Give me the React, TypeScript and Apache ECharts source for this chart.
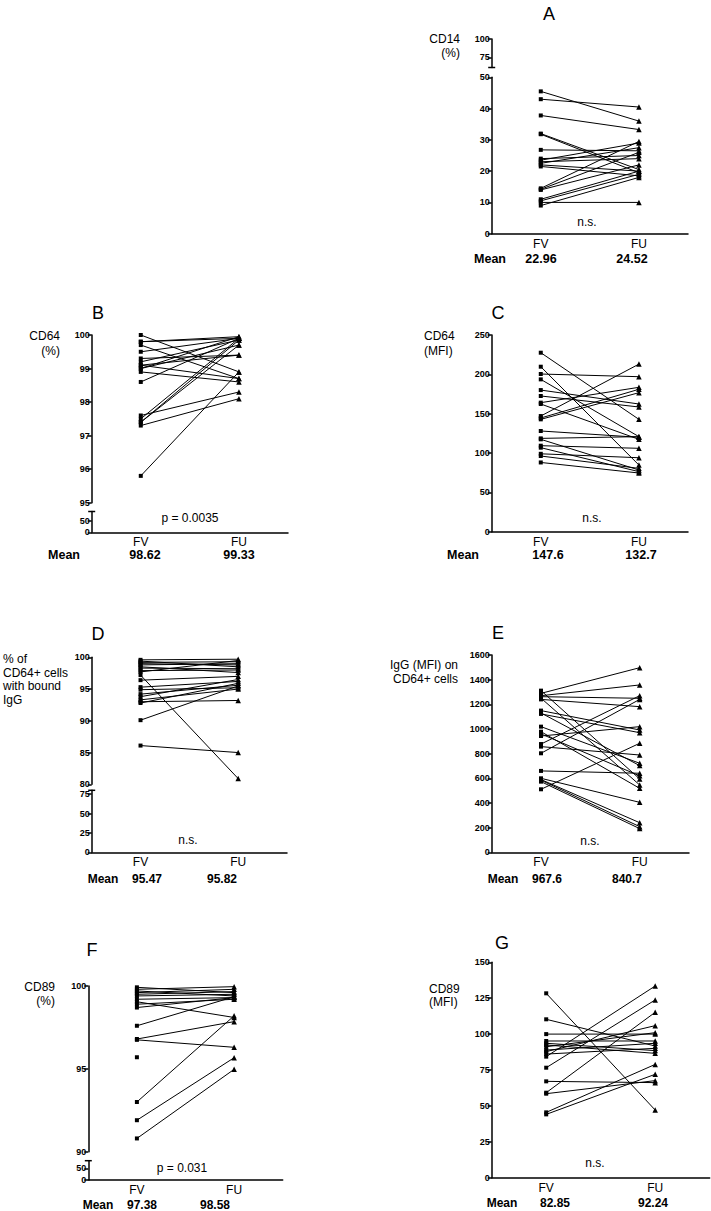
import React, { useEffect, useRef } from 'react';
import * as echarts from 'echarts';

const categories = ['FV', 'FU'];

// A: CD14 (%)
const cd14FV = [45.5, 43, 37.8, 32, 31.8, 26.8, 24, 23.5, 23, 22.5, 22, 21.5, 14.5, 14.2, 14, 11, 10.5, 10, 9];
const cd14FU = [36, 40.5, 33.3, 20.5, 19.5, 26.5, 25, 29, 24, 27.5, 20, 18.5, 29.5, 26, 22, 20, 19, 10, 18];
const meanA = ['22.96', '24.52'];

// B: CD64 (%)
const cd64PctFV = [100, 99.8, 99.7, 99.5, 99.3, 99.2, 99.1, 99.0, 99.0, 98.9, 98.6, 97.6, 97.5, 97.4, 97.4, 97.3, 95.8, 99.8, 99.1];
const cd64PctFU = [98.9, 99.9, 98.7, 99.9, 99.4, 99.85, 98.7, 99.7, 99.95, 98.6, 99.9, 98.3, 99.9, 99.7, 99.85, 98.1, 98.9, 99.95, 99.4];
const meanB = ['98.62', '99.33'];

// C: CD64 (MFI)
const cd64MfiFV = [227.5, 209.7, 200.4, 193.6, 180, 172.5, 164, 162.3, 147, 144.5, 142.8, 128, 118.6, 117.4, 109.3, 106.8, 99, 96.2, 88];
const cd64MfiFU = [142.8, 84.7, 197, 120.8, 162.3, 158.5, 183.5, 117.4, 213, 181, 176.7, 120, 120.8, 78.4, 106, 76.3, 94, 80.5, 74.6];
const meanC = ['147.6', '132.7'];

// D: % of CD64+ cells with bound IgG
const boundFV = [99.6, 99.4, 99.2, 98.8, 98.5, 98.3, 97.7, 97.2, 96.4, 95.3, 94.9, 94.2, 93.8, 93.3, 93.0, 92.8, 90.1, 86.1, 99.0, 97.9];
const boundFU = [99.7, 98.5, 99.3, 99.0, 97.6, 98.2, 99.5, 80.9, 97.0, 96.2, 95.2, 95.6, 96.5, 95.0, 93.2, 95.9, 95.5, 85.0, 98.8, 98.0];
const meanD = ['95.47', '95.82'];

// E: IgG (MFI) on CD64+ cells
const igGFV = [1311, 1289, 1270, 1262, 1250, 1240, 1149, 1130, 1122, 1019, 978, 943, 960, 878, 857, 803, 660, 600, 590, 585, 573, 511];
const igGFU = [595, 1497, 1357, 1249, 546, 1181, 992, 703, 970, 722, 519, 1019, 620, 1270, 789, 1240, 641, 405, 240, 208, 192, 884];
const meanE = ['967.6', '840.7'];

// F: CD89 (%)
const cd89PctFV = [99.92, 99.8, 99.7, 99.6, 99.5, 99.4, 99.2, 99.05, 98.9, 98.7, 97.6, 96.8, 96.75, 95.7, 93.0, 91.9, 90.8];
const cd89PctFU: (number | null)[] = [99.6, 99.96, 99.4, 99.8, 99.66, 99.5, 99.3, 98.1, 99.2, 99.3, 99.35, 97.85, 96.3, null, 98.2, 95.67, 94.97];
const meanF = ['97.38', '98.58'];

// G: CD89 (MFI)
const cd89MfiFV = [128.4, 110.3, 100, 95.2, 93.6, 92.4, 91.2, 88.9, 87.8, 86.1, 84.3, 76.6, 67.1, 59.2, 58.5, 45.5, 44.1];
const cd89MfiFU = [47.1, 91.7, 100, 95.2, 88.5, 86.6, 101, 93.6, 105.9, 90.1, 133.5, 123.8, 66.2, 115.2, 67.6, 78.9, 72];
const meanG = ['82.85', '92.24'];

const FONT = 'Liberation Sans, Arial, sans-serif';

type Seg = { top: number; height: number; min: number; max: number; interval?: number; ticks?: number[]; main?: boolean };
type Panel = { left: number; width: number; segs: Seg[]; fv: number[]; fu: (number | null)[] };

const panels: Panel[] = [
  { left: 491.7, width: 196.3, fv: cd14FV, fu: cd14FU, segs: [
    { top: 39, height: 28.5, min: 61, max: 100, ticks: [75, 100] },
    { top: 77.3, height: 156.4, min: 0, max: 50, interval: 10, main: true },
  ] },
  { left: 91.7, width: 196.3, fv: cd64PctFV, fu: cd64PctFU, segs: [
    { top: 335, height: 167.7, min: 95, max: 100, interval: 1, main: true },
    { top: 511.5, height: 20.8, min: 0, max: 90, ticks: [0, 50] },
  ] },
  { left: 491.7, width: 196.3, fv: cd64MfiFV, fu: cd64MfiFU, segs: [
    { top: 335, height: 196.7, min: 0, max: 250, interval: 50, main: true },
  ] },
  { left: 91.7, width: 195.3, fv: boundFV, fu: boundFU, segs: [
    { top: 657.3, height: 127, min: 80, max: 100, interval: 5, main: true },
    { top: 790.3, height: 62, min: 0, max: 80, ticks: [0, 25, 50, 75] },
  ] },
  { left: 491.7, width: 197.3, fv: igGFV, fu: igGFU, segs: [
    { top: 655, height: 197.3, min: 0, max: 1600, interval: 200, main: true },
  ] },
  { left: 88.3, width: 194.4, fv: cd89PctFV, fu: cd89PctFU, segs: [
    { top: 986, height: 165.7, min: 90, max: 100, interval: 5, main: true },
    { top: 1160.7, height: 19.3, min: 0, max: 82.5, ticks: [0, 50] },
  ] },
  { left: 491.7, width: 218, fv: cd89MfiFV, fu: cd89MfiFU, segs: [
    { top: 962.3, height: 215.4, min: 0, max: 150, interval: 25, main: true },
  ] },
];

const txt = (x: number, y: number, text: string, size: number, align = 'center', bold = false) => ({
  type: 'text', x, y, silent: true,
  style: { text, fill: '#000', fontSize: size, fontFamily: FONT, fontWeight: bold ? 'bold' : 'normal', align, verticalAlign: 'middle' },
});

const cap = (x: number, y: number) => ({
  type: 'line', silent: true,
  shape: { x1: x - 3.5, y1: y, x2: x + 3.5, y2: y },
  style: { stroke: '#000', lineWidth: 1.5 },
});

function buildOption() {
  const grid: any[] = [];
  const xAxis: any[] = [];
  const yAxis: any[] = [];
  const series: any[] = [];
  panels.forEach((p) => {
    p.segs.forEach((s, si) => {
      const idx = grid.length;
      grid.push({ left: p.left, top: s.top, width: p.width, height: s.height, containLabel: false, outerBoundsMode: 'none' });
      const isBottom = si === p.segs.length - 1;
      xAxis.push({
        gridIndex: idx, type: 'category', data: categories, show: isBottom,
        axisLine: { show: true, lineStyle: { color: '#000', width: 1.5 } },
        axisTick: { show: false },
        axisLabel: { color: '#000', fontSize: 12, fontFamily: FONT, margin: 4 },
        splitLine: { show: false },
      });
      const y: any = {
        gridIndex: idx, type: 'value', min: s.min, max: s.max,
        axisLine: { show: true, lineStyle: { color: '#000', width: 1.5 } },
        axisTick: { show: true, length: 4, lineStyle: { color: '#000', width: 1.5 } },
        axisLabel: { color: '#000', fontSize: 9, fontWeight: 'bold', fontFamily: FONT, margin: 2, formatter: (v: number) => String(v) },
        splitLine: { show: false },
      };
      if (s.interval) y.interval = s.interval;
      if (s.ticks) {
        y.axisTick.customValues = s.ticks;
        y.axisLabel.customValues = s.ticks;
      }
      yAxis.push(y);
      if (s.main) {
        p.fv.forEach((v, i) => {
          const u = p.fu[i];
          const data: any[] = [{ value: ['FV', v], symbol: 'rect', symbolSize: 4 }];
          if (u != null) data.push({ value: ['FU', u], symbol: 'triangle', symbolSize: 5.5 });
          series.push({
            type: 'line', xAxisIndex: idx, yAxisIndex: idx, data, silent: true,
            lineStyle: { color: '#000', width: 1 }, itemStyle: { color: '#000' },
            emphasis: { disabled: true },
          });
        });
      }
    });
  });

  const graphic: any[] = [
    // panel letters
    txt(549, 14, 'A', 18), txt(98, 313, 'B', 18), txt(498, 313, 'C', 18),
    txt(98, 634, 'D', 18), txt(498, 633, 'E', 18), txt(92, 950, 'F', 18), txt(502, 943, 'G', 18),
    // y titles
    txt(460, 39, 'CD14', 12, 'right'), txt(460, 53, '(%)', 12, 'right'),
    txt(60, 336, 'CD64', 12, 'right'), txt(60, 351, '(%)', 12, 'right'),
    txt(424, 336, 'CD64', 12, 'left'), txt(424, 351, '(MFI)', 12, 'left'),
    txt(3, 659, '% of', 12, 'left'), txt(3, 673, 'CD64+ cells', 12, 'left'),
    txt(3, 686, 'with bound', 12, 'left'), txt(3, 700, 'IgG', 12, 'left'),
    txt(458, 665, 'IgG (MFI) on', 12, 'right'), txt(458, 679, 'CD64+ cells', 12, 'right'),
    txt(55, 987, 'CD89', 12, 'right'), txt(55, 1001, '(%)', 12, 'right'),
    txt(429, 989, 'CD89', 12, 'left'), txt(429, 1002, '(MFI)', 12, 'left'),
    // stats
    txt(587, 222, 'n.s.', 12), txt(190, 518, 'p = 0.0035', 12), txt(592, 518, 'n.s.', 12),
    txt(188, 840, 'n.s.', 12), txt(590, 841, 'n.s.', 12), txt(182, 1168, 'p = 0.031', 12), txt(595, 1163, 'n.s.', 12),
    // means
    txt(490, 259, 'Mean', 12.5, 'center', true), txt(541, 259, meanA[0], 12.5, 'center', true), txt(632, 259, meanA[1], 12.5, 'center', true),
    txt(64, 555, 'Mean', 12.5, 'center', true), txt(145, 555, meanB[0], 12.5, 'center', true), txt(239, 555, meanB[1], 12.5, 'center', true),
    txt(463, 555, 'Mean', 12.5, 'center', true), txt(548, 555, meanC[0], 12.5, 'center', true), txt(641, 555, meanC[1], 12.5, 'center', true),
    txt(103, 879, 'Mean', 12, 'center', true), txt(147, 879, meanD[0], 12, 'center', true), txt(222, 879, meanD[1], 12, 'center', true),
    txt(503, 879, 'Mean', 12, 'center', true), txt(547, 879, meanE[0], 12, 'center', true), txt(627, 879, meanE[1], 12, 'center', true),
    txt(98, 1205, 'Mean', 12, 'center', true), txt(142, 1205, meanF[0], 12, 'center', true), txt(215, 1205, meanF[1], 12, 'center', true),
    txt(502, 1203, 'Mean', 12, 'center', true), txt(555, 1203, meanG[0], 12, 'center', true), txt(653, 1203, meanG[1], 12, 'center', true),
    // axis break caps
    cap(491.7, 67.5), cap(91.7, 511.5), cap(91.7, 790.3), cap(88.3, 1160.7),
  ];

  return { animation: false, backgroundColor: '#fff', grid, xAxis, yAxis, series, graphic };
}

export default function App() {
  const ref = useRef<HTMLDivElement>(null);
  useEffect(() => {
    if (!ref.current) return;
    const chart = echarts.init(ref.current, undefined, { renderer: 'svg' });
    chart.setOption(buildOption() as any);
    return () => chart.dispose();
  }, []);
  return <div ref={ref} style={{ position: 'absolute', left: 0, top: 0, width: 711, height: 1211, background: '#fff' }} />;
}
